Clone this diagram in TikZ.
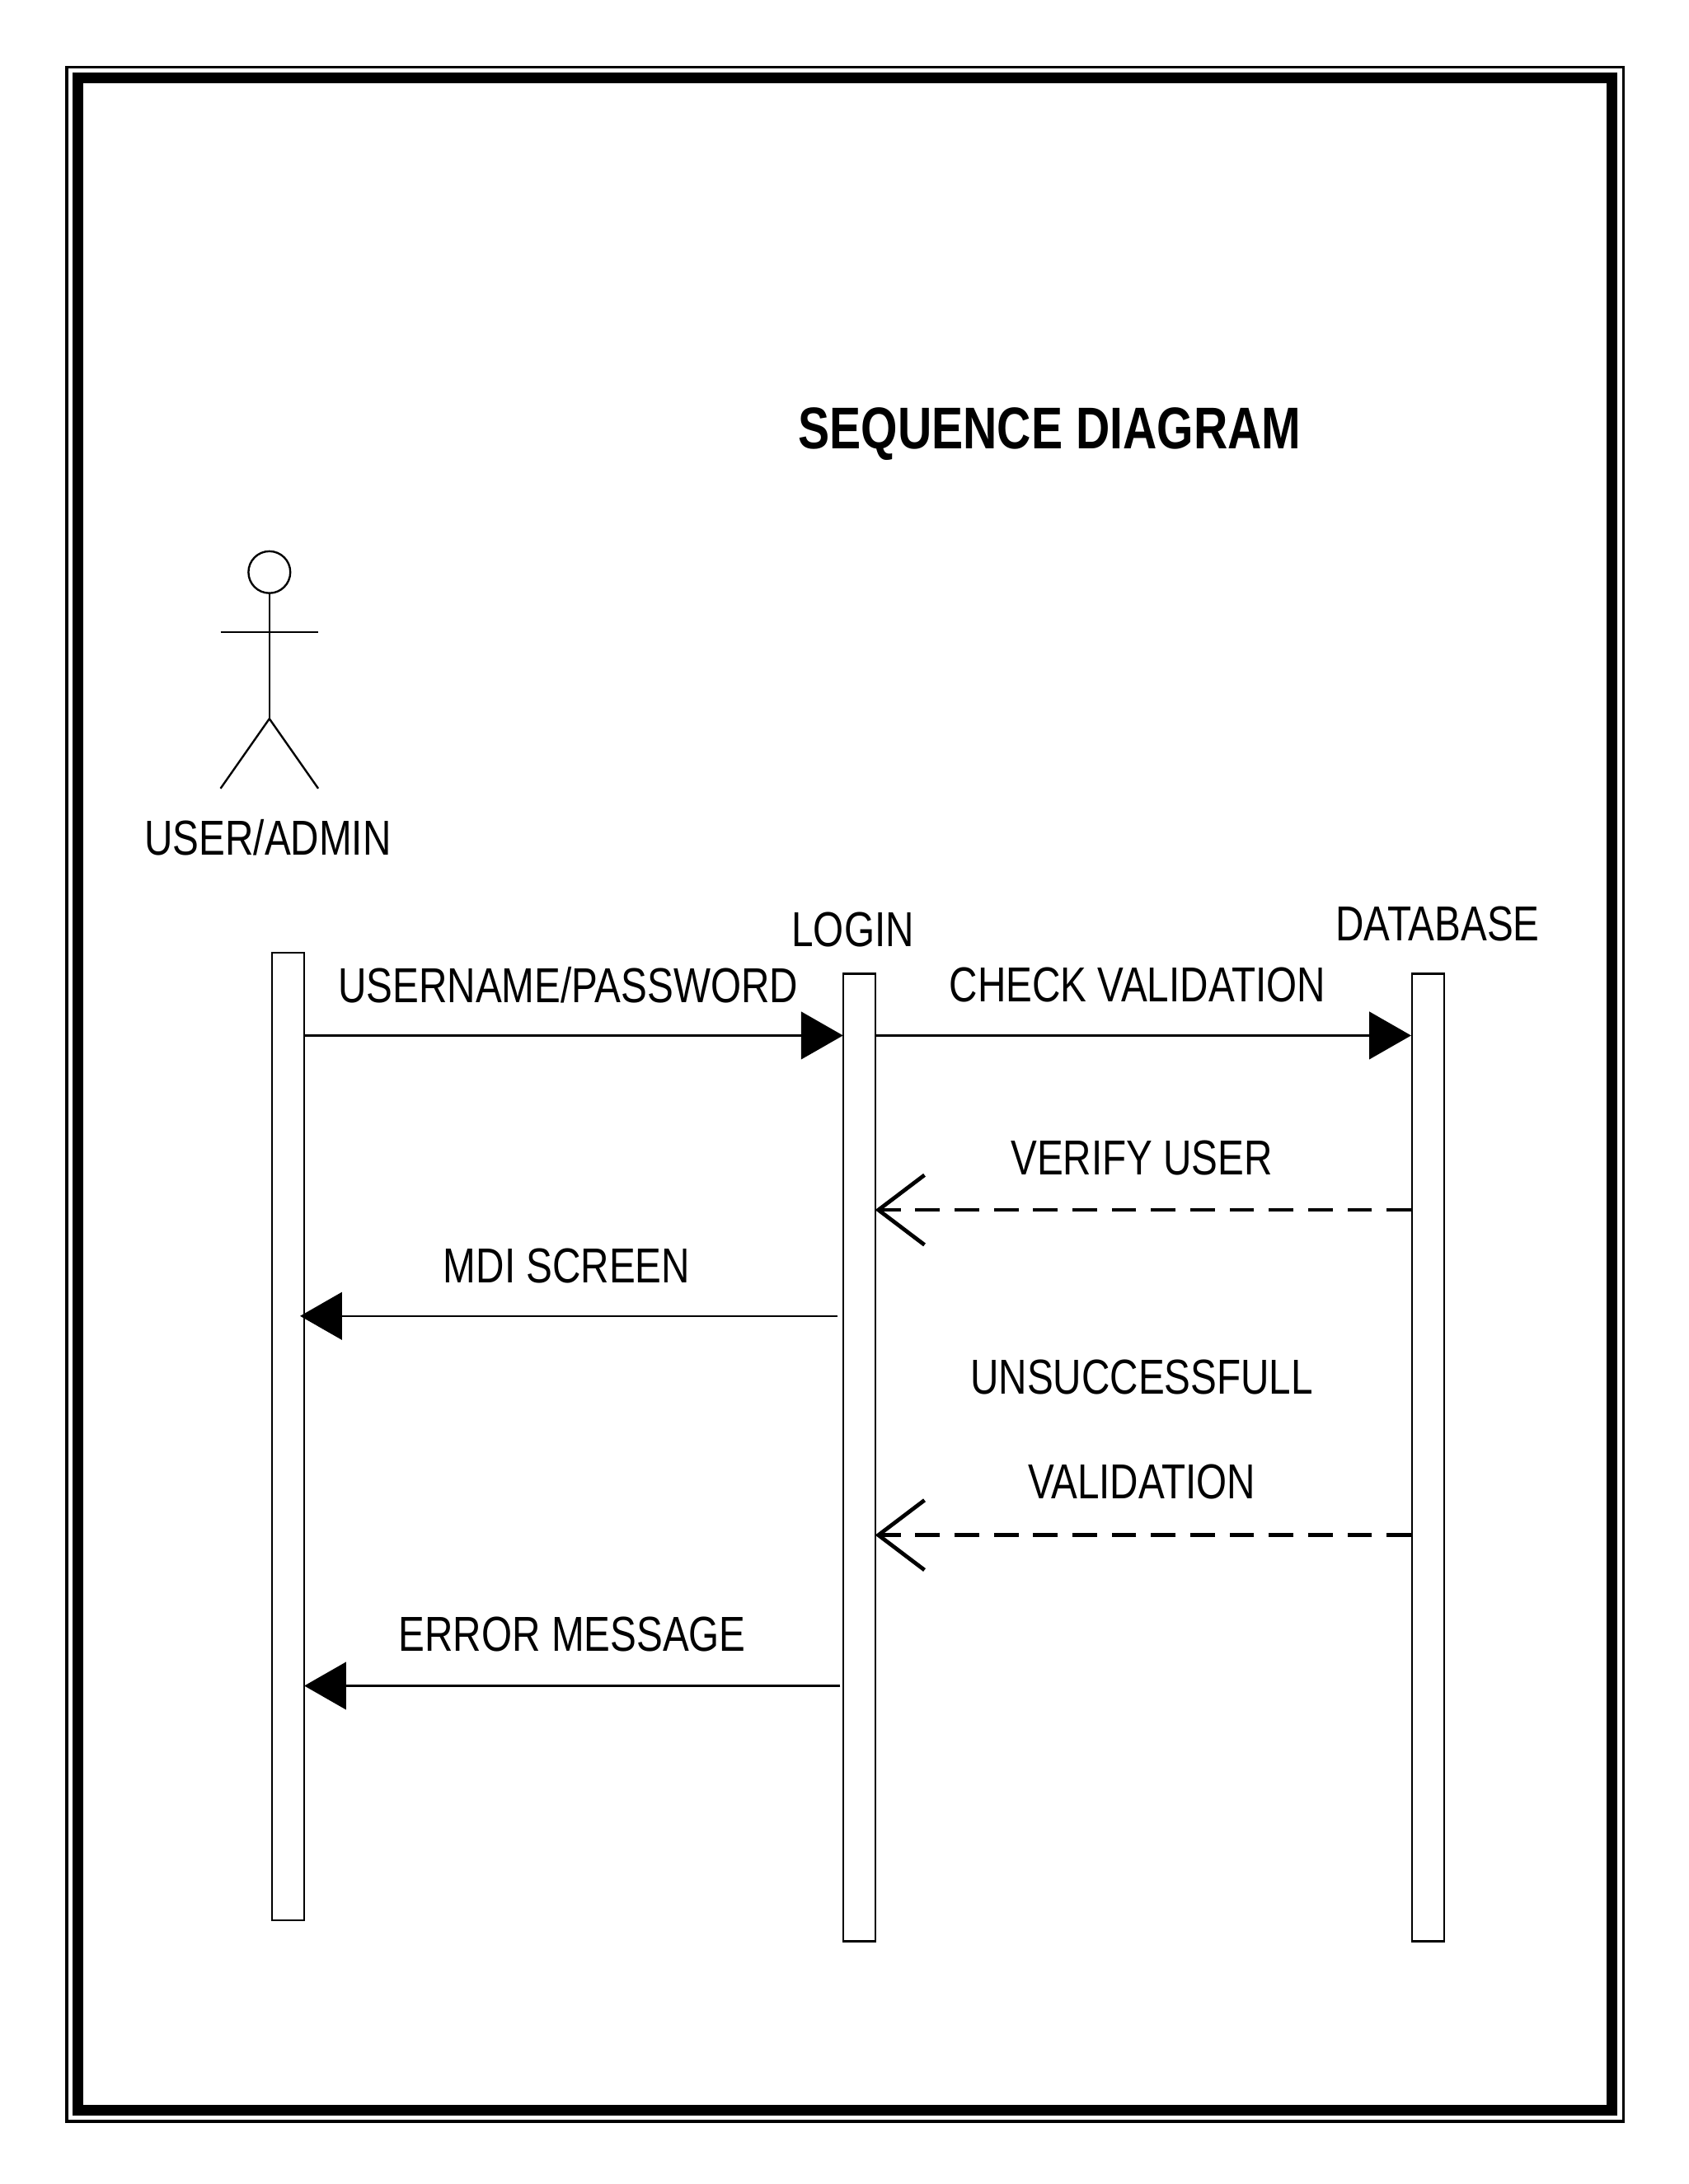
\documentclass[tikz,border=0pt]{standalone}
\usepackage{fontspec}
\setmainfont{Liberation Sans}[FakeStretch=0.8]
\usetikzlibrary{arrows.meta,positioning}

\tikzset{
    life/.style={draw, minimum width=0.23cm, inner sep=0pt},
    lbl/.style={font=\fontsize{10pt}{12pt}\selectfont, inner sep=0pt},
    call/.style={-{Triangle[length=0.3cm,width=0.34cm]}},
    reply/.style={thick, dash pattern=on 5pt off 3pt, -{Straight Barb[length=0.33cm,width=0.5cm]}},
}

\begin{document}
\begin{tikzpicture}[x=0.01cm,y=-0.01cm]
    \useasboundingbox (0,0) rectangle (1210,1565);
    \draw [line width=0.6pt] (48,48) rectangle (1163,1520);
    \draw [line width=2.2pt] (56,56) rectangle (1155,1512);

    \node (title) at (752,311) {\fontsize{12pt}{14pt}\selectfont\bfseries SEQUENCE DIAGRAM};

    % actor
    \draw (193,410) circle [radius=15];
    \draw (193,425) -- (193,515);
    \draw (158,453) -- (228,453);
    \draw (158,565) -- (193,515) -- (228,565);
    \node [lbl] (actor) at (192,600) {USER/ADMIN};

    % lifelines
    \node [life, minimum height=6.93cm, anchor=north] (user) at (206.5,682) {};
    \node [life, minimum height=6.93cm, anchor=north] (login) at (615.5,697) {};
    \node [life, minimum height=6.93cm, anchor=north] (db) at (1023,697) {};
    \node [lbl] (loginname) at (611,666) {LOGIN};
    \node [lbl] (dbname) at (1030,662) {DATABASE};

    % message ends
    \coordinate (m1a) at (218,742);  \coordinate (m1b) at (604,742);
    \coordinate (m2a) at (627,742);  \coordinate (m2b) at (1011,742);
    \coordinate (m3a) at (1011,867); \coordinate (m3b) at (627,867);
    \coordinate (m4a) at (600,943);  \coordinate (m4b) at (215,943);
    \coordinate (m5a) at (1011,1100);\coordinate (m5b) at (627,1100);
    \coordinate (m6a) at (602,1208); \coordinate (m6b) at (218,1208);

    \draw [call] (m1a) -- (m1b);
    \draw [call] (m2a) -- (m2b);
    \draw [reply] (m3a) -- (m3b);
    \draw [call] (m4a) -- (m4b);
    \draw [reply] (m5a) -- (m5b);
    \draw [call] (m6a) -- (m6b);

    \node [lbl] (t1) at (407,706) {USERNAME/PASSWORD};
    \node [lbl] (t2) at (815,706) {CHECK VALIDATION};
    \node [lbl] (t3) at (818,830) {VERIFY USER};
    \node [lbl] (t4) at (406,907) {MDI SCREEN};
    \node [lbl] (t5) at (818,987) {UNSUCCESSFULL};
    \node [lbl] (t6) at (818,1062) {VALIDATION};
    \node [lbl] (t7) at (410,1171) {ERROR MESSAGE};
\end{tikzpicture}
\end{document}
